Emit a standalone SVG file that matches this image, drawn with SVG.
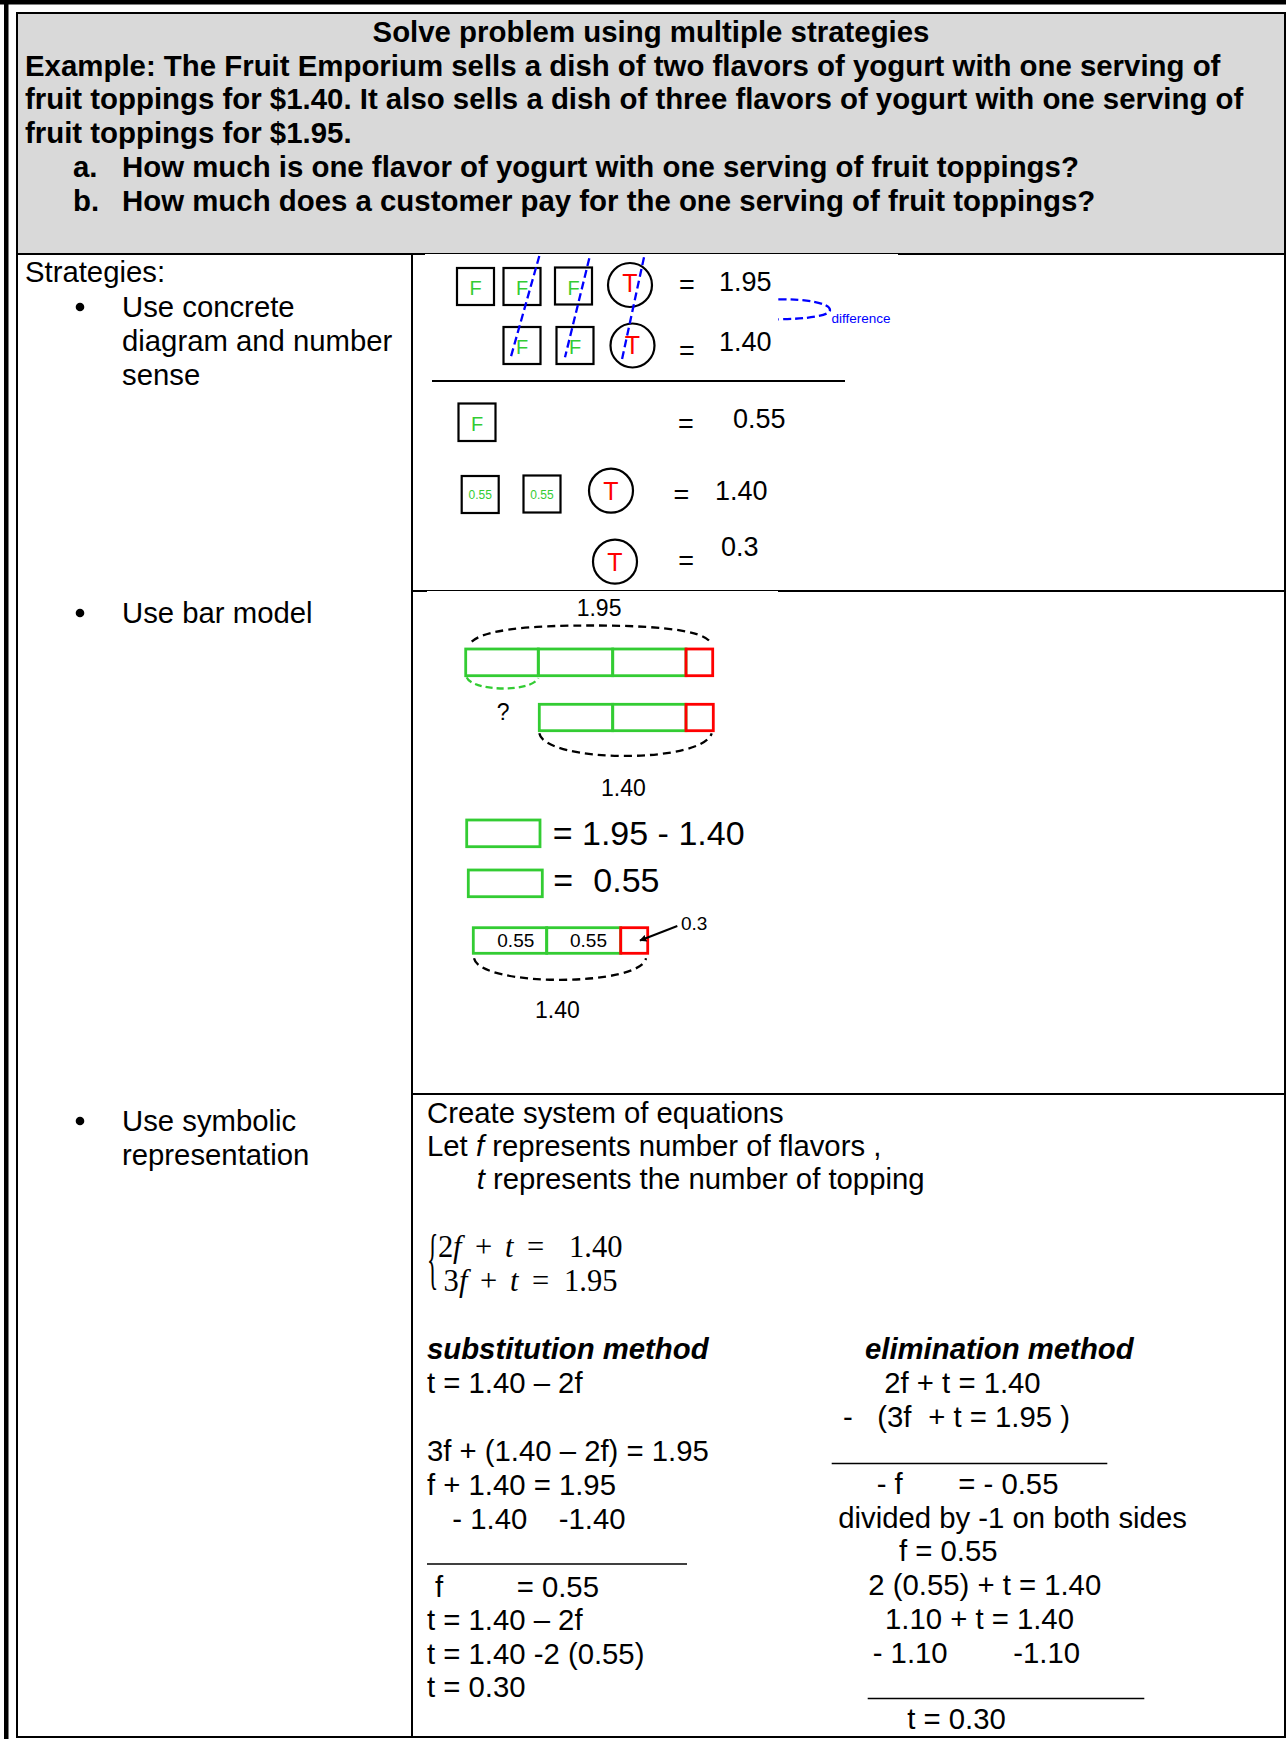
<svg xmlns="http://www.w3.org/2000/svg" width="1286" height="1739" viewBox="0 0 1286 1739">
<style>
text{font-family:"Liberation Sans",Arial,sans-serif;fill:#000}
.m{font-size:29.3px}
.hb{font-size:29.4px;font-weight:bold}
.bi{font-size:29.3px;font-weight:bold;font-style:italic}
.it{font-style:italic}
.eq{font-size:27px}
.fg{font-size:20px;fill:#33cc33;text-anchor:middle}
.tr{font-size:25px;fill:#ff0000;text-anchor:middle}
.sm{font-size:12px;fill:#33cc33;text-anchor:middle}
.bx{fill:none;stroke:#000;stroke-width:2.2}
.cir{fill:none;stroke:#000;stroke-width:2.2}
.bl{fill:none;stroke:#0000ff;stroke-width:2.3;stroke-dasharray:8 4}
.gb{fill:none;stroke:#33cc33;stroke-width:2.8}
.rb{fill:none;stroke:#ff0000;stroke-width:2.8}
.da{fill:none;stroke:#000;stroke-width:2.3;stroke-dasharray:8 5}
.dg{fill:none;stroke:#33cc33;stroke-width:2.3;stroke-dasharray:7 4}
.ln{stroke:#000;stroke-width:2}
.ul{stroke:#000;stroke-width:1.4}
.mx{font-family:"Liberation Serif","Times New Roman",serif;font-size:30.5px}
.b23{font-size:23px}
.b34{font-size:34px}
.b19{font-size:19px}
</style>
<defs>
<marker id="ah" viewBox="0 0 10 10" refX="9" refY="5" markerWidth="7" markerHeight="7" orient="auto" markerUnits="userSpaceOnUse">
<path d="M0,0 L10,5 L0,10 z" fill="#000"/>
</marker>
</defs>
<rect width="1286" height="1739" fill="#fff"/>

<g id="frame">
<rect x="17" y="13" width="1268" height="241" fill="#d9d9d9"/>
<rect x="0" y="0" width="1286" height="4.5" fill="#000"/>
<rect x="4" y="0" width="4.5" height="1739" fill="#000"/>
<rect x="17" y="13" width="1268" height="1724" fill="none" stroke="#000" stroke-width="2"/>
<line class="ln" x1="17" y1="254" x2="1285" y2="254"/>
<line class="ln" x1="412" y1="254" x2="412" y2="1737"/>
<line class="ln" x1="412" y1="591" x2="1285" y2="591"/>
<line class="ln" x1="412" y1="1094" x2="1285" y2="1094"/>
<rect x="425" y="254" width="473" height="1.1" fill="#fff"/>
<rect x="427" y="591" width="351" height="1.1" fill="#fff"/>
</g>

<g id="header">
<text class="hb" x="651" y="42" text-anchor="middle">Solve problem using multiple strategies</text>
<text class="hb" x="25" y="76">Example: The Fruit Emporium sells a dish of two flavors of yogurt with one serving of</text>
<text class="hb" x="25" y="109">fruit toppings for $1.40. It also sells a dish of three flavors of yogurt with one serving of</text>
<text class="hb" x="25" y="143">fruit toppings for $1.95.</text>
<text class="hb" x="73" y="177">a.</text>
<text class="hb" x="122" y="177">How much is one flavor of yogurt with one serving of fruit toppings?</text>
<text class="hb" x="73" y="211">b.</text>
<text class="hb" x="122" y="211">How much does a customer pay for the one serving of fruit toppings?</text>
</g>

<g id="strategies">
<text class="m" x="25" y="282">Strategies:</text>
<circle cx="80" cy="307" r="4.3" fill="#000"/>
<text class="m" x="122" y="317">Use concrete</text>
<text class="m" x="122" y="351">diagram and number</text>
<text class="m" x="122" y="385">sense</text>
<circle cx="80" cy="613" r="4.3" fill="#000"/>
<text class="m" x="122" y="623">Use bar model</text>
<circle cx="80" cy="1121" r="4.3" fill="#000"/>
<text class="m" x="122" y="1131">Use symbolic</text>
<text class="m" x="122" y="1165">representation</text>
</g>

<g id="concrete">
<rect class="bx" x="457" y="268" width="37" height="37"/>
<text class="fg" x="475.5" y="295">F</text>
<rect class="bx" x="503.5" y="268" width="37" height="37"/>
<text class="fg" x="522" y="295">F</text>
<rect class="bx" x="555" y="267.5" width="37" height="37"/>
<text class="fg" x="573.5" y="294.5">F</text>
<circle class="cir" cx="630" cy="285" r="22"/>
<text class="tr" x="630" y="292">T</text>
<text class="eq" x="679" y="294">=</text>
<text class="eq" x="719" y="291">1.95</text>

<rect class="bx" x="503.5" y="327" width="37" height="37"/>
<text class="fg" x="522" y="354">F</text>
<rect class="bx" x="556.5" y="327" width="37" height="37"/>
<text class="fg" x="575" y="354">F</text>
<circle class="cir" cx="632.5" cy="345.5" r="22"/>
<text class="tr" x="632.5" y="354">T</text>
<text class="eq" x="679" y="360">=</text>
<text class="eq" x="719" y="351">1.40</text>

<line class="bl" x1="539.3" y1="256" x2="510" y2="360"/>
<line class="bl" x1="589.3" y1="258.3" x2="565" y2="357.3"/>
<line class="bl" x1="644" y1="257.3" x2="621.7" y2="360.7"/>
<path class="bl" d="M778.3,299.3 C806,299 830,303 830,310 C830,316 806,319 778.3,319.3"/>
<text x="831.5" y="322.5" style="font-size:13.5px;fill:#0000ff">difference</text>

<line class="ln" x1="432" y1="381" x2="845" y2="381"/>

<rect class="bx" x="458.5" y="403.5" width="37" height="37.5"/>
<text class="fg" x="477" y="430.5">F</text>
<text class="eq" x="678" y="433">=</text>
<text class="eq" x="733" y="428">0.55</text>

<rect class="bx" x="461.7" y="476" width="37" height="37"/>
<text class="sm" x="480.2" y="499">0.55</text>
<rect class="bx" x="523.5" y="475.5" width="37" height="37"/>
<text class="sm" x="542" y="498.5">0.55</text>
<circle class="cir" cx="611" cy="490.7" r="22"/>
<text class="tr" x="611" y="499.5">T</text>
<text class="eq" x="673.5" y="504">=</text>
<text class="eq" x="715" y="500">1.40</text>

<circle class="cir" cx="615" cy="561.7" r="22"/>
<text class="tr" x="615" y="570.7">T</text>
<text class="eq" x="678.3" y="569.5">=</text>
<text class="eq" x="721" y="556">0.3</text>
</g>

<g id="barmodel">
<text class="b23" x="576.7" y="616">1.95</text>
<path class="da" d="M471.7,641.7 C488,626 560,625.5 591.7,625.5 C640,625.5 700,628 710,641.7"/>
<rect class="gb" x="465.7" y="649" width="72.6" height="26.7"/>
<rect class="gb" x="538.3" y="649" width="74.4" height="26.7"/>
<rect class="gb" x="612.7" y="649" width="73.3" height="26.7"/>
<rect class="rb" x="686" y="649" width="26.7" height="26.7"/>
<path class="dg" d="M466.7,677.3 C472,691 530,693 538.3,678.3"/>
<text class="b23" x="496.7" y="720">?</text>
<rect class="gb" x="539.3" y="704.3" width="73.4" height="26.4"/>
<rect class="gb" x="612.7" y="704.3" width="73.3" height="26.4"/>
<rect class="rb" x="686" y="704.3" width="27.3" height="26.4"/>
<path class="da" d="M539.3,733.3 C545,763 702,764 711.7,733.3"/>
<text class="b23" x="601" y="795.7">1.40</text>

<rect class="gb" x="466.7" y="820" width="73.3" height="26.7"/>
<text class="b34" x="552.7" y="845">= 1.95 - 1.40</text>
<rect class="gb" x="468.3" y="870" width="74" height="26.7"/>
<text class="b34" x="553.3" y="891.7">=</text>
<text class="b34" x="593.3" y="891.7">0.55</text>

<rect class="gb" x="473.3" y="927.7" width="73.4" height="25.6"/>
<rect class="gb" x="546.7" y="927.7" width="74" height="25.6"/>
<rect class="rb" x="620.7" y="927.7" width="27" height="25.6"/>
<text class="b19" x="497.3" y="946.7">0.55</text>
<text class="b19" x="570" y="946.7">0.55</text>
<line x1="677.3" y1="926" x2="640" y2="940.5" stroke="#000" stroke-width="2" marker-end="url(#ah)"/>
<text class="b19" x="681" y="930">0.3</text>
<path class="da" d="M474,958.3 C480,987 640,987 646,958.3"/>
<text class="b23" x="535" y="1018.3">1.40</text>
</g>

<g id="symbolic">
<text class="m" x="427" y="1123">Create system of equations</text>
<text class="m" x="427" y="1156">Let <tspan class="it">f</tspan> represents number of flavors ,</text>
<text class="m" x="476.7" y="1189"><tspan class="it">t</tspan> represents the number of topping</text>

<text class="mx" transform="translate(427,1281) scale(0.35,1)" style="font-size:67px">{</text>
<text class="mx" y="1257"><tspan x="438">2</tspan><tspan x="453" class="it">f</tspan><tspan x="475">+</tspan><tspan x="505" class="it">t</tspan><tspan x="527">=</tspan><tspan x="569">1.40</tspan></text>
<text class="mx" y="1291"><tspan x="443.5">3</tspan><tspan x="459" class="it">f</tspan><tspan x="480">+</tspan><tspan x="510" class="it">t</tspan><tspan x="532">=</tspan><tspan x="564">1.95</tspan></text>

<text class="bi" x="427" y="1359">substitution method</text>
<text class="m" x="427" y="1393">t = 1.40 – 2f</text>
<text class="m" x="427" y="1461">3f + (1.40 – 2f) = 1.95</text>
<text class="m" x="427" y="1495">f + 1.40 = 1.95</text>
<text class="m" x="452.3" y="1528.5">- 1.40</text>
<text class="m" x="558.7" y="1528.5">-1.40</text>
<line class="ul" x1="427" y1="1564" x2="687" y2="1564"/>
<text class="m" x="435" y="1596.5">f</text>
<text class="m" x="516.7" y="1596.5">= 0.55</text>
<text class="m" x="427" y="1630">t = 1.40 – 2f</text>
<text class="m" x="427" y="1663.5">t = 1.40 -2 (0.55)</text>
<text class="m" x="427" y="1697">t = 0.30</text>

<text class="bi" x="865" y="1359">elimination method</text>
<text class="m" x="884.3" y="1393">2f + t = 1.40</text>
<text class="m" x="843" y="1427">-</text>
<text class="m" x="877.3" y="1427">(3f</text>
<text class="m" x="928.3" y="1427">+ t = 1.95 )</text>
<line class="ul" x1="831.7" y1="1463.5" x2="1107.3" y2="1463.5"/>
<text class="m" x="876.7" y="1494">- f</text>
<text class="m" x="958.3" y="1494">= - 0.55</text>
<text class="m" x="838.3" y="1528">divided by -1 on both sides</text>
<text class="m" x="899" y="1561">f = 0.55</text>
<text class="m" x="868.3" y="1595">2 (0.55) + t = 1.40</text>
<text class="m" x="885" y="1629">1.10 + t = 1.40</text>
<text class="m" x="872.7" y="1662.5">- 1.10</text>
<text class="m" x="1013.3" y="1662.5">-1.10</text>
<line class="ul" x1="867.7" y1="1698.5" x2="1144.3" y2="1698.5"/>
<text class="m" x="907.3" y="1729">t = 0.30</text>
</g>
</svg>
